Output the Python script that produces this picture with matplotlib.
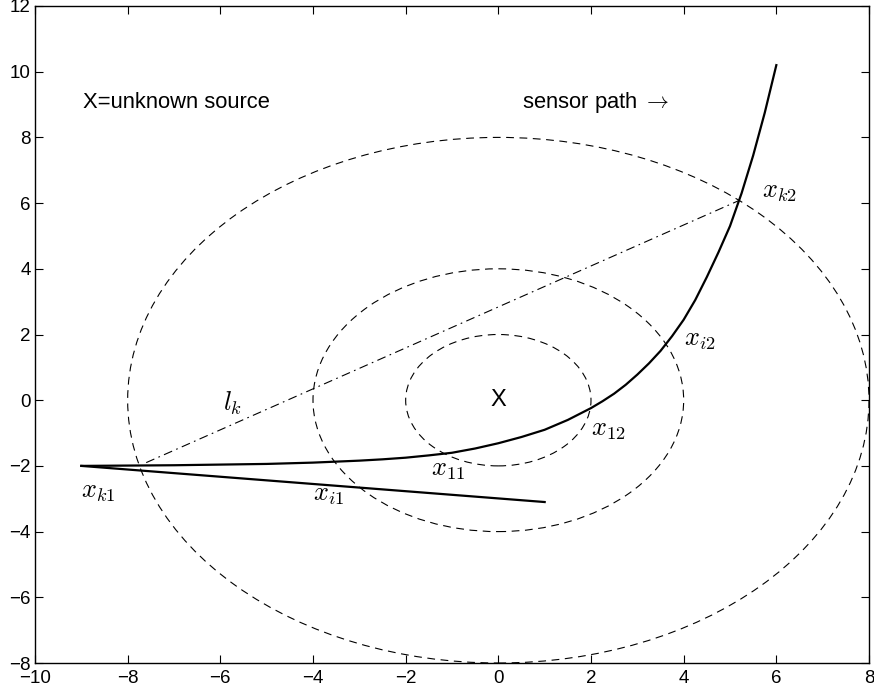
import matplotlib
matplotlib.use("Agg")
import matplotlib.pyplot as plt
from matplotlib.patches import Ellipse

plt.rcParams['font.family'] = ['Liberation Sans', 'DejaVu Sans']
plt.rcParams['mathtext.fontset'] = 'cm'

# sensor path (curved) and the straight path leg
path_x = [-9, -8, -7, -6, -5, -4, -3, -2.5, -2, -1.5, -1, -0.5, 0, 0.5, 1, 1.5,
          2, 2.25, 2.5, 2.75, 3, 3.25, 3.5, 3.75, 4, 4.25, 4.5, 4.75, 5, 5.25, 5.5, 5.75, 6]
path_y = [-2.0, -1.99, -1.98, -1.96, -1.94, -1.9, -1.84, -1.8, -1.75, -1.68, -1.6, -1.47,
          -1.31, -1.12, -0.9, -0.6, -0.24, -0.03, 0.2, 0.47, 0.78, 1.12, 1.5, 1.95,
          2.45, 3.05, 3.75, 4.5, 5.3, 6.3, 7.45, 8.75, 10.2]
leg_x = [-9, 1]
leg_y = [-2, -3.1]

# chord l_k between the two crossings of the outer circle
chord_x = [-7.6, 5.18]
chord_y = [-1.9, 6.07]

# range circles around the source
radii = [2, 4, 8]
source = (0, 0)

labels = [r'$x_{k1}$', r'$x_{i1}$', r'$x_{11}$', r'$x_{12}$', r'$x_{i2}$', r'$x_{k2}$', r'$l_k$']
label_x = [-9.0, -4.0, -1.45, 2.0, 4.0, 5.7, -5.95]
label_y = [-2.8, -2.9, -2.13, -0.92, 1.82, 6.34, -0.1]

fig = plt.figure(figsize=(8.74, 6.96), dpi=100)
ax = fig.add_axes([35 / 874, 33 / 696, 834 / 874, 657 / 696])

for r in radii:
    ax.add_patch(Ellipse(source, 2 * r, 2 * r, fill=False, ec='black', lw=0.8,
                         linestyle=(0, (7, 5))))

ax.plot(chord_x, chord_y, color='black', lw=0.8, linestyle=(0, (8, 4, 1.5, 4)))
ax.plot(path_x, path_y, color='black', lw=1.6)
ax.plot(leg_x, leg_y, color='black', lw=1.6)

ax.text(source[0], source[1], 'X', fontsize=17, ha='center', va='center')
ax.text(-8.96, 9.05, 'X=unknown source', fontsize=15.8, va='center')
ax.text(0.51, 9.05, r'sensor path $\rightarrow$', fontsize=15.8, va='center')
for t, lx, ly in zip(labels, label_x, label_y):
    ax.text(lx, ly, t, fontsize=19, va='center')

ax.set_xlim(-10, 8)
ax.set_ylim(-8, 12)
ax.set_xticks(range(-10, 9, 2))
ax.set_yticks(range(-8, 13, 2))
ax.tick_params(direction='in', top=True, right=True, labelsize=13.5, length=6, width=0.8, pad=3)
ax.tick_params(axis='x', pad=5)
for s in ax.spines.values():
    s.set_linewidth(1.0)

fig.savefig('out.png', dpi=100)
